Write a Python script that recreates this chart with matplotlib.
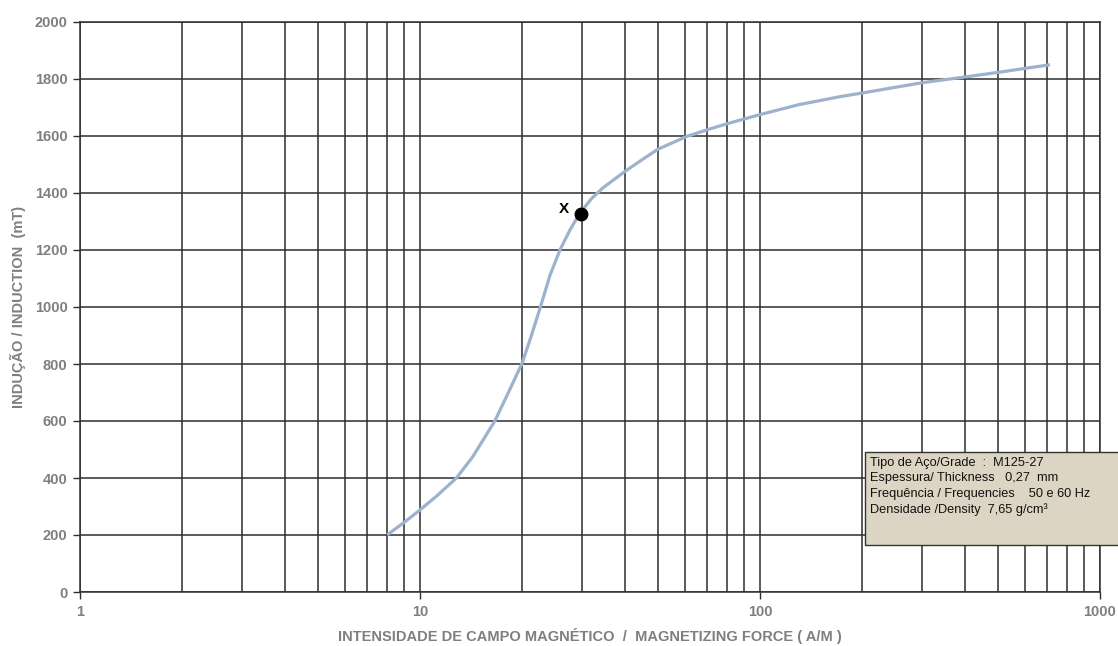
import numpy as np
import matplotlib
matplotlib.use("Agg")
import matplotlib.pyplot as plt
from matplotlib.patches import Rectangle
from matplotlib.ticker import FixedLocator, NullFormatter, LogLocator

plt.rcParams['font.family'] = ['Liberation Sans', 'DejaVu Sans']

# curva de magnetização B x H (aço M125-27)
campo_h = [8, 9, 10, 11.2, 12.8, 14.3, 16.6, 18.4, 20, 21.2, 22.6, 24.1,
           25.8, 27.6, 29.5, 32.0, 34.5, 40, 45.4, 50, 60.7, 70, 80, 90,
           100, 130, 172, 200, 300, 400, 500, 600, 713]
inducao_b = [200, 245, 288, 337, 400, 475, 600, 712, 805, 895, 1000, 1110,
             1200, 1270, 1329, 1381, 1418, 1475, 1520, 1553, 1598, 1622,
             1643, 1660, 1675, 1710, 1738, 1751, 1787, 1807, 1823, 1837,
             1850]

# ponto de operação marcado com "X"
ponto_h = 29.7
ponto_b = 1326

info = ["Tipo de Aço/Grade  :  M125-27",
        "Espessura/ Thickness   0,27  mm",
        "Frequência / Frequencies    50 e 60 Hz",
        "Densidade /Density  7,65 g/cm³"]

cinza = '#7f7f7f'
grade = '#2e2e2e'

fig = plt.figure(figsize=(11.18, 6.46), dpi=100)
ax = fig.add_axes([80 / 1118, 54 / 646, 1020 / 1118, 570 / 646])

ax.set_xscale('log')
ax.set_xlim(1, 1000)
ax.set_ylim(0, 2000)
ax.set_yticks(np.arange(0, 2001, 200))
ax.xaxis.set_major_locator(FixedLocator([1, 10, 100, 1000]))
ax.xaxis.set_minor_locator(LogLocator(base=10, subs=np.arange(2, 10)))
ax.xaxis.set_minor_formatter(NullFormatter())
ax.set_xticklabels(['1', '10', '100', '1000'])

ax.grid(True, which='both', axis='x', color=grade, lw=1.1)
ax.grid(True, which='major', axis='y', color=grade, lw=1.1)
ax.set_axisbelow(True)

for s in ax.spines.values():
    s.set_color(grade)
    s.set_linewidth(1.1)

ax.tick_params(axis='both', which='major', length=5, width=1.0, color=grade,
               labelcolor=cinza, labelsize=10.5, pad=4)
ax.tick_params(axis='x', which='minor', length=0)
for lb in ax.get_xticklabels() + ax.get_yticklabels():
    lb.set_fontweight('bold')

ax.plot(campo_h, inducao_b, color='#9db2cd', lw=2.3, solid_capstyle='butt',
        solid_joinstyle='round', zorder=3)
ax.plot(ponto_h, ponto_b, 'o', color='black', ms=9, zorder=4)
ax.annotate('X', (ponto_h, ponto_b), xytext=(-12, 4),
            textcoords='offset points', ha='center', va='center',
            fontsize=11, fontweight='bold', color='black')

ax.set_xlabel('INTENSIDADE DE CAMPO MAGNÉTICO  /  MAGNETIZING FORCE ( A/M )',
              color=cinza, fontsize=10.5, fontweight='bold', labelpad=7)
ax.set_ylabel('INDUÇÃO / INDUCTION  (mT)', color=cinza, fontsize=10.5,
              fontweight='bold', labelpad=6)

# quadro com os dados do material
fig.patches.append(Rectangle((865 / 1118, 101 / 646), 260 / 1118, 93 / 646,
                             transform=fig.transFigure, facecolor='#ddd5c4',
                             edgecolor='#333333', lw=1.0, zorder=5))
for i, linha in enumerate(info):
    fig.text(870 / 1118, (646 - 463 - i * 15.5) / 646, linha, fontsize=9.2,
             color='#111111', va='center', ha='left', zorder=6)

fig.savefig('out.png', dpi=100)
